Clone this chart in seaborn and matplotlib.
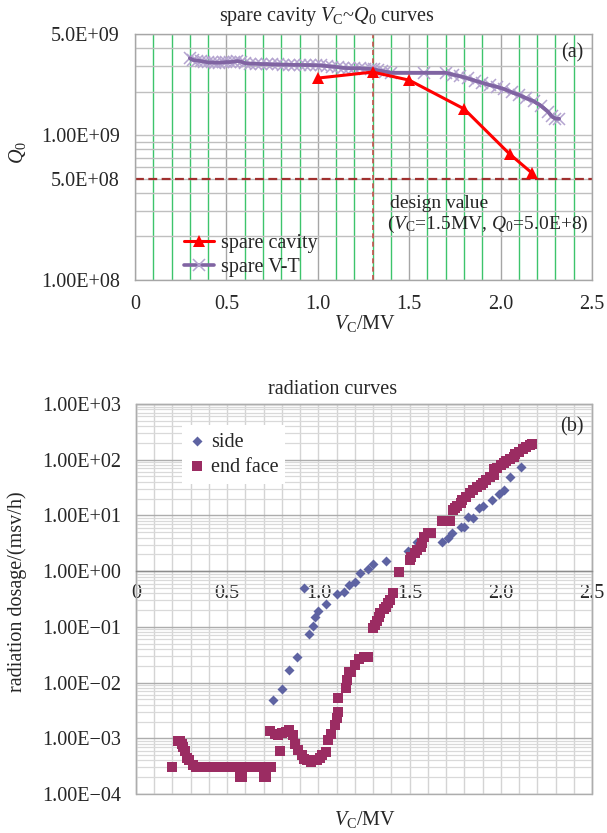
import numpy as np
import pandas as pd
import matplotlib
matplotlib.use("Agg")
import matplotlib.pyplot as plt
import matplotlib.ticker as mticker
import seaborn as sns

# ---- data: panel (a) ----
cavity_v = [1.00, 1.30, 1.50, 1.80, 2.05, 2.17]
cavity_q = [2.48e9, 2.73e9, 2.40e9, 1.52e9, 7.4e8, 5.5e8]

vt_v = [0.30, 0.32, 0.34, 0.36, 0.38, 0.40, 0.42, 0.44, 0.46, 0.48, 0.50, 0.52,
        0.54, 0.56, 0.58, 0.60, 0.63, 0.66, 0.69, 0.72, 0.75, 0.78, 0.81, 0.84,
        0.87, 0.90, 0.93, 0.96, 0.99, 1.02, 1.05, 1.08, 1.11, 1.14, 1.17, 1.20,
        1.23, 1.26, 1.29, 1.31, 1.33, 1.35, 1.37, 1.40, 1.58, 1.70, 1.74, 1.78,
        1.82, 1.86, 1.90, 1.94, 1.98, 2.02, 2.06, 2.10, 2.14, 2.18, 2.22, 2.26,
        2.28, 2.30, 2.32]
vt_q = [3.40, 3.30, 3.28, 3.25, 3.22, 3.18, 3.18, 3.17, 3.17, 3.18, 3.20, 3.20,
        3.22, 3.25, 3.22, 3.15, 3.12, 3.12, 3.10, 3.10, 3.08, 3.08, 3.07, 3.07,
        3.06, 3.06, 3.05, 3.05, 3.04, 3.03, 3.00, 2.98, 2.95, 2.92, 2.90, 2.90,
        2.90, 2.88, 2.87, 2.85, 2.80, 2.78, 2.75, 2.70, 2.70, 2.70, 2.62, 2.55,
        2.47, 2.38, 2.30, 2.22, 2.16, 2.08, 1.98, 1.90, 1.80, 1.72, 1.60, 1.45,
        1.35, 1.30, 1.30]
vt_q = [q * 1e9 for q in vt_q]

q_ticks = [1e8, 5e8, 1e9, 5e9]
q_labels = ["1.00E+08", "5.0E+08", "1.00E+09", "5.0E+09"]

# ---- data: panel (b) ----
side_v = [0.75, 0.80, 0.84, 0.88, 0.92, 0.95, 0.97, 0.98, 1.00, 1.04, 1.10, 1.14,
          1.17, 1.20, 1.23, 1.27, 1.30, 1.37, 1.49, 1.54, 1.68, 1.71, 1.73, 1.78,
          1.80, 1.82, 1.85, 1.88, 1.90, 1.95, 1.99, 2.02, 2.05, 2.11]
side_d = [0.0049, 0.0077, 0.017, 0.029, 0.50, 0.074, 0.105, 0.15, 0.195, 0.26,
          0.39, 0.43, 0.56, 0.65, 0.93, 1.1, 1.35, 1.5, 2.3, 3.3, 3.3, 4.0, 4.9,
          6.2, 6.2, 9.3, 9.0, 13.5, 15, 19, 24.5, 29, 49, 74]

end_v = [0.20, 0.23, 0.24, 0.25, 0.26, 0.27, 0.28, 0.29, 0.31, 0.33, 0.35, 0.37,
         0.39, 0.41, 0.43, 0.45, 0.47, 0.49, 0.51, 0.53, 0.55, 0.57, 0.58, 0.59,
         0.61, 0.63, 0.65, 0.67, 0.69, 0.70, 0.71, 0.72, 0.74, 0.735, 0.76, 0.78,
         0.79, 0.80, 0.82, 0.84, 0.86, 0.87, 0.89, 0.91, 0.92, 0.94, 0.96, 0.99,
         1.01, 1.02, 1.04, 1.05, 1.07, 1.09, 1.10, 1.105, 1.11, 1.15, 1.155,
         1.17, 1.18, 1.20, 1.22, 1.25, 1.27, 1.30, 1.31, 1.32, 1.33, 1.34, 1.36,
         1.37, 1.38, 1.39, 1.41, 1.44, 1.50, 1.51, 1.53, 1.54, 1.56, 1.57, 1.58,
         1.60, 1.62, 1.68, 1.70, 1.72, 1.74, 1.75, 1.76, 1.78, 1.79, 1.81, 1.83,
         1.85, 1.87, 1.89, 1.90, 1.92, 1.94, 1.96, 1.965, 1.98, 2.00, 2.02, 2.03,
         2.05, 2.07, 2.08, 2.10, 2.12, 2.14, 2.16, 2.17]
end_d = [3.0e-4, 9.0e-4, 9.0e-4, 8.0e-4, 7.0e-4, 6.0e-4, 4.5e-4, 4.0e-4, 3.3e-4,
         3.0e-4, 3.0e-4, 3.0e-4, 3.0e-4, 3.0e-4, 3.0e-4, 3.0e-4, 3.0e-4, 3.0e-4,
         3.0e-4, 3.0e-4, 3.0e-4, 2.0e-4, 2.0e-4, 3.0e-4, 3.0e-4, 3.0e-4, 3.0e-4,
         3.0e-4, 3.0e-4, 2.0e-4, 2.0e-4, 3.0e-4, 3.0e-4, 1.35e-3, 1.2e-3, 1.15e-3,
         6.0e-4, 1.25e-3, 1.3e-3, 1.4e-3, 1.15e-3, 8.0e-4, 6.2e-4, 5.0e-4, 4.3e-4,
         4.1e-4, 3.8e-4, 4.1e-4, 4.5e-4, 5.0e-4, 5.6e-4, 9.4e-4, 1.2e-3, 1.7e-3,
         2.3e-3, 3.0e-3, 5.2e-3, 8.0e-3, 0.011, 0.0155, 0.0155, 0.0205, 0.027,
         0.029, 0.029, 0.095, 0.11, 0.13, 0.15, 0.18, 0.21, 0.23, 0.27, 0.30, 0.40,
         0.97, 1.6, 1.8, 2.1, 2.4, 2.7, 3.2, 4.1, 4.8, 4.8, 8.0, 8.0, 8.0, 12.5,
         13.5, 15, 16.6, 19, 21.6, 25, 28.6, 32, 35, 38, 43, 48, 54, 67, 70, 81,
         88, 94, 103, 113, 125, 140, 155, 170, 185, 195]

d_ticks = [1e-4, 1e-3, 1e-2, 1e-1, 1e0, 1e1, 1e2, 1e3]
d_labels = ["1.00E\u221204", "1.00E\u221203", "1.00E\u221202", "1.00E\u221201",
            "1.00E+00", "1.00E+01", "1.00E+02", "1.00E+03"]

v_ticks = [0, 0.5, 1.0, 1.5, 2.0, 2.5]
v_labels = ["0", "0.5", "1.0", "1.5", "2.0", "2.5"]

# ---- style ----
sns.set_theme(style="white")
plt.rcParams["font.family"] = ["Liberation Serif", "DejaVu Serif"]
plt.rcParams["mathtext.fontset"] = "custom"
plt.rcParams["mathtext.rm"] = "Liberation Serif"
plt.rcParams["mathtext.it"] = "Liberation Serif:italic"
FS = 14.5

W, H = 607, 833
fig = plt.figure(figsize=(W / 100, H / 100), dpi=100)
fig.patch.set_facecolor("white")

# ================= panel (a) =================
ax1 = fig.add_axes([135 / W, 1 - 280 / H, 457 / W, 246 / H])
ax1.set_yscale("log")
ax1.set_xlim(0, 2.5)
ax1.set_ylim(1e8, 5e9)
ax1.set_axisbelow(True)

ax1.xaxis.set_major_locator(mticker.FixedLocator(v_ticks))
ax1.xaxis.set_minor_locator(mticker.MultipleLocator(0.1))
ax1.set_xticklabels(v_labels)
ax1.yaxis.set_major_locator(mticker.FixedLocator(q_ticks))
ax1.yaxis.set_minor_locator(mticker.LogLocator(base=10, subs=np.arange(2, 10)))
ax1.yaxis.set_minor_formatter(mticker.NullFormatter())
ax1.set_yticklabels(q_labels)
ax1.grid(which="major", axis="x", color="#A6A6A6", lw=1.0)
ax1.grid(which="minor", axis="x", color="#3DC46B", lw=1.0)
ax1.grid(which="both", axis="y", color="#BFBFBF", lw=1.0)
ax1.tick_params(which="both", length=0, labelsize=FS, pad=11)
for s in ax1.spines.values():
    s.set_color("#A6A6A6")
    s.set_linewidth(1.0)

ax1.axhline(5e8, color="#A0302E", ls=(0, (4, 2)), lw=1.6, zorder=2)
ax1.axvline(1.3, color="#C8504D", ls=(0, (3, 2)), lw=1.2, zorder=2)

# V-T: light x markers under a dark line
sns.lineplot(x=vt_v, y=vt_q, ax=ax1, color="#8064A2", lw=2.6, marker="x",
             markersize=9, markeredgewidth=1.1, markeredgecolor="#B4A4D0",
             errorbar=None, label="spare V-T", zorder=3)
sns.lineplot(x=vt_v, y=vt_q, ax=ax1, color="#8064A2", lw=2.6,
             errorbar=None, zorder=3.5)
sns.lineplot(x=cavity_v, y=cavity_q, ax=ax1, color="#FF0000", lw=2.2, marker="^",
             markersize=8, markeredgewidth=0, errorbar=None, label="spare cavity",
             zorder=4)
h, l = ax1.get_legend_handles_labels()
keep = [i for i, t in enumerate(l) if t in ("spare cavity", "spare V-T")]
h = [h[i] for i in keep][::-1]
l = [l[i] for i in keep][::-1]
ax1.legend(h, l, loc="lower left", bbox_to_anchor=(0.09, -0.02),
           frameon=False, fontsize=FS, handlelength=1.5, handletextpad=0.35,
           labelspacing=0.25, borderaxespad=0)

fig.text(390 / W, 1 - 203 / H, "design value", fontsize=14, ha="left", va="center")
fig.text(387 / W, 1 - 224 / H, "($V_\\mathrm{C}$=1.5MV, $Q_0$=5.0E+8)",
         fontsize=14, ha="left", va="center")
fig.text(572 / W, 1 - 53 / H, "(a)", fontsize=FS, ha="center", va="center")
fig.text(327 / W, 1 - 17 / H, "spare cavity $V_\\mathrm{C}$~$Q_0$ curves",
         fontsize=FS, ha="center", va="center")
fig.text(365 / W, 1 - 323 / H, "$V_\\mathrm{C}$/MV", fontsize=FS,
         ha="center", va="center")
fig.text(17 / W, 1 - 152 / H, "$Q_0$", fontsize=FS, ha="center", va="center",
         rotation=90)

# ================= panel (b) =================
ax2 = fig.add_axes([136 / W, 1 - 794 / H, 456 / W, 390 / H])
ax2.set_yscale("log")
ax2.set_xlim(0, 2.5)
ax2.set_ylim(1e-4, 1e3)
ax2.set_axisbelow(True)

# x axis crosses at y = 1 (value axis), plot-area border drawn by the patch
ax2.xaxis.set_major_locator(mticker.FixedLocator(v_ticks))
ax2.xaxis.set_minor_locator(mticker.MultipleLocator(0.1))
ax2.set_xticklabels(v_labels)
ax2.yaxis.set_major_locator(mticker.FixedLocator(d_ticks))
ax2.yaxis.set_minor_locator(mticker.LogLocator(base=10, subs=np.arange(2, 10)))
ax2.yaxis.set_minor_formatter(mticker.NullFormatter())
ax2.set_yticklabels(d_labels)
ax2.grid(which="both", axis="x", color="#D4D4D4", lw=1.0)
ax2.grid(which="major", axis="y", color="#ADADAD", lw=1.0)
ax2.grid(which="minor", axis="y", color="#D9D9D9", lw=0.9)
ax2.tick_params(which="both", length=0, labelsize=FS)
ax2.tick_params(axis="y", pad=11)
ax2.tick_params(axis="x", pad=9)
for s in ax2.spines.values():
    s.set_color("#ADADAD")
    s.set_linewidth(1.0)
ax2.spines["bottom"].set_position(("data", 1.0))
ax2.spines["bottom"].set_color("#8C8C8C")
ax2.patch.set_edgecolor("#ADADAD")
ax2.patch.set_linewidth(1.0)

sns.scatterplot(x=side_v, y=side_d, ax=ax2, marker="D", s=26, color="#5E63A2",
                linewidth=0, label="side", zorder=3)
sns.scatterplot(x=end_v, y=end_d, ax=ax2, marker="s", s=46, color="#9B2C62",
                linewidth=0, label="end face", zorder=4)
leg = ax2.legend(loc="upper left", bbox_to_anchor=(0.1, 0.945), fontsize=FS,
                 frameon=True, fancybox=False, framealpha=1, edgecolor="none",
                 facecolor="white", handlelength=0.8, handletextpad=0.3,
                 labelspacing=0.3, borderpad=0.35, borderaxespad=0)

fig.text(572 / W, 1 - 427 / H, "(b)", fontsize=FS, ha="center", va="center")
fig.text(333 / W, 1 - 389 / H, "radiation curves", fontsize=FS,
         ha="center", va="center")
fig.text(365 / W, 1 - 820 / H, "$V_\\mathrm{C}$/MV", fontsize=FS,
         ha="center", va="center")
fig.text(17 / W, 1 - 592 / H, "radiation dosage/(msv/h)", fontsize=FS,
         ha="center", va="center", rotation=90)

fig.savefig("out.png", dpi=100, facecolor="white")
